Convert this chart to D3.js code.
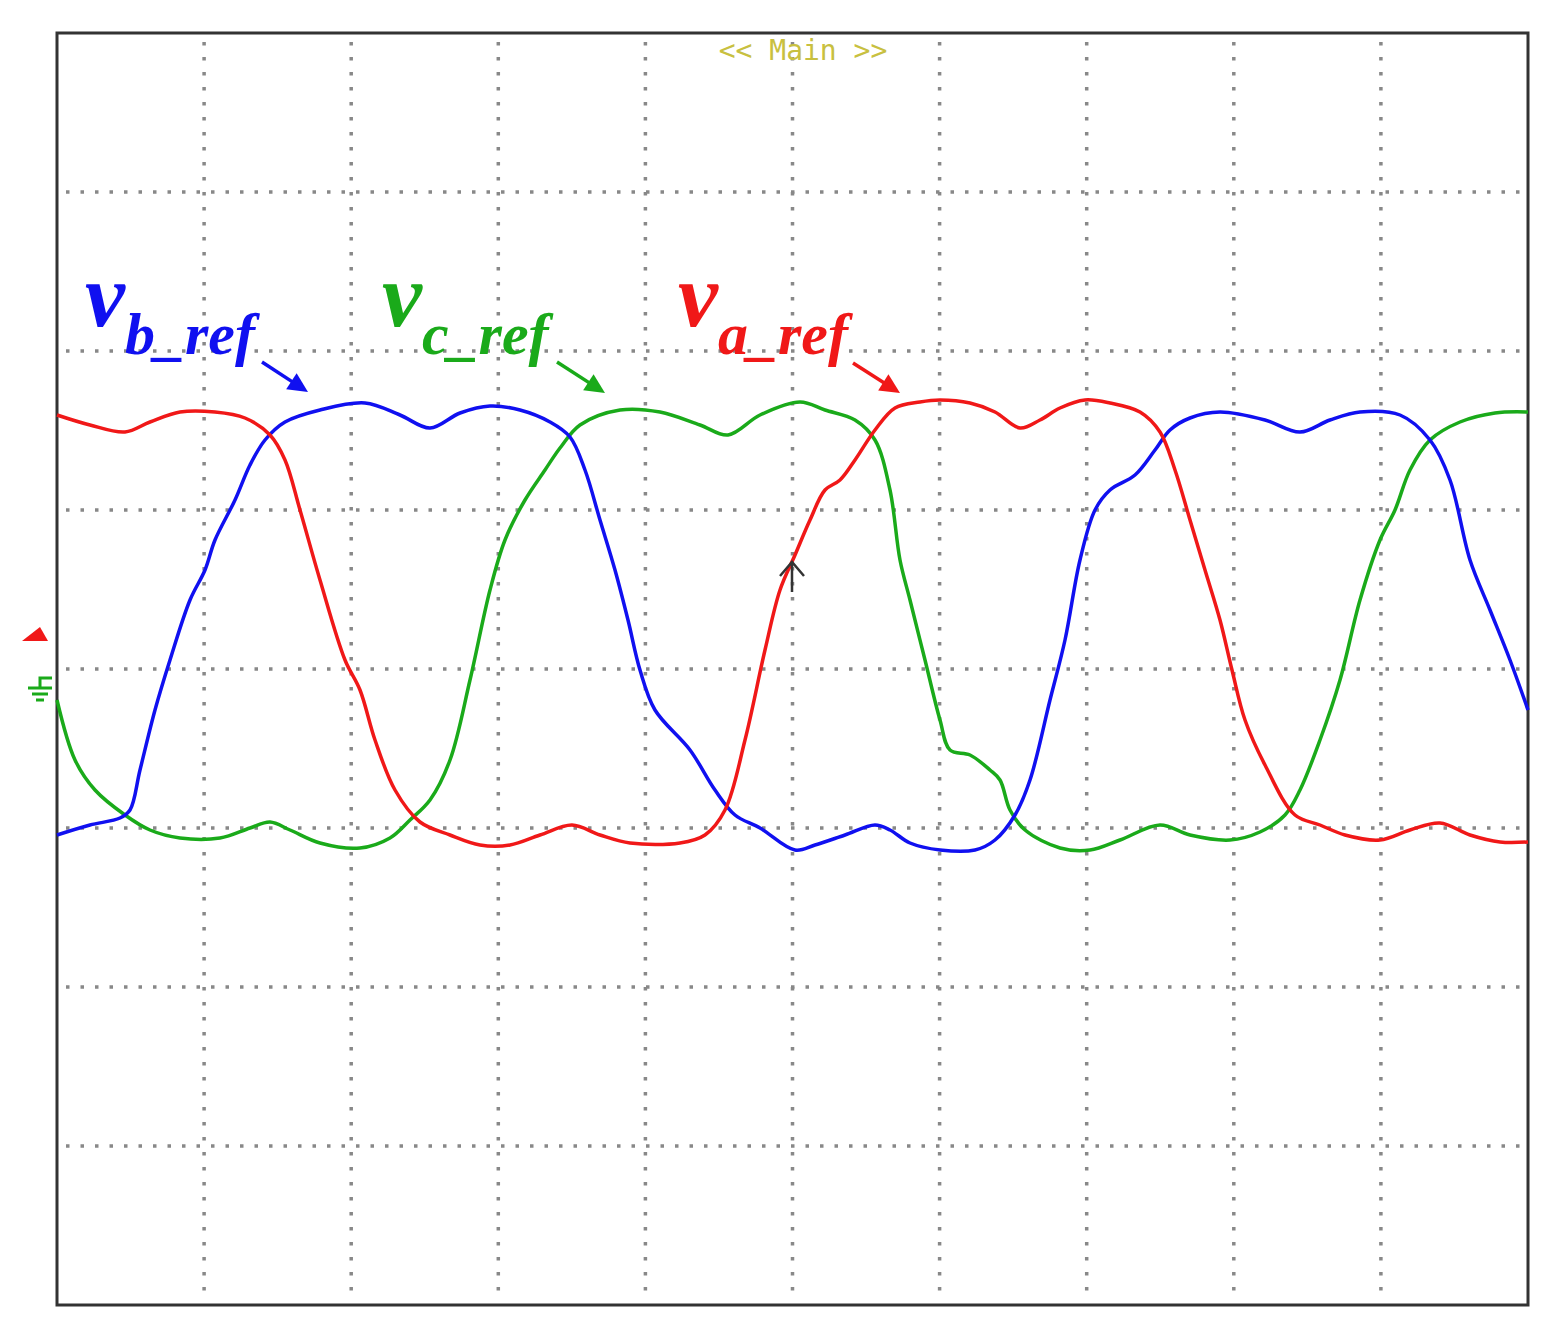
<!DOCTYPE html>
<html>
<head>
<meta charset="utf-8">
<script src="https://cdn.jsdelivr.net/npm/d3@7"></script>
<style>
  body { margin: 0; background: #fff; }
  .lbl { font-family: "Liberation Serif", serif; font-style: italic; font-weight: bold; }
</style>
</head>
<body>
<div id="viz"></div>
<script>
/*** data: screen divisions (x: 0..10, y: 0 = centre line, 4 divs each way) ***/
// traces in pixels, then converted below
const vaPx = [[57,415],[90,425],[125,432],[150,422],[180,412],[215,412],[245,418],[270,435],[285,460],[300,510],[320,580],[345,660],[360,690],[375,740],[395,790],[420,822],[450,835],[480,845],[510,845],[540,835],[572,825],[600,835],[630,843],[680,843],[705,835],[725,810],[745,740],[765,650],[780,590],[795,555],[810,520],[825,490],[840,480],[855,460],[875,430],[895,408],[920,402],[940,400],[970,403],[995,412],[1020,428],[1040,420],[1060,408],[1085,400],[1110,403],[1140,412],[1160,432],[1175,470],[1190,520],[1205,570],[1220,620],[1232,670],[1245,720],[1265,765],[1295,815],[1320,825],[1345,835],[1380,840],[1410,830],[1440,823],[1470,835],[1500,842],[1528,842]];
const vbPx = [[57,835],[90,825],[120,818],[130,810],[140,770],[155,710],[170,660],[190,600],[205,570],[215,540],[235,500],[250,465],[265,440],[285,422],[320,410],[365,403],[400,415],[430,428],[460,413],[490,406],[520,410],[550,422],[570,437],[585,470],[600,520],[615,570],[628,620],[640,670],[655,710],[690,750],[715,790],[735,815],[760,828],[795,850],[815,845],[845,835],[875,825],[890,830],[910,843],[940,850],[975,850],[995,840],[1015,815],[1030,780],[1050,700],[1065,640],[1080,560],[1095,510],[1110,490],[1135,475],[1155,450],[1170,430],[1190,418],[1220,412],[1265,420],[1300,432],[1330,420],[1360,412],[1400,415],[1430,440],[1450,480],[1470,560],[1490,610],[1510,660],[1528,710]];
const vcPx = [[57,700],[75,760],[95,790],[125,815],[150,830],[180,838],[220,838],[250,828],[270,822],[290,830],[320,843],[360,848],[390,838],[410,820],[430,800],[450,760],[470,680],[490,590],[505,540],[525,500],[545,470],[560,448],[580,425],[620,410],[660,412],[700,425],[728,435],[760,415],[800,402],[825,410],[855,420],[875,440],[890,490],[900,560],[910,600],[925,660],[940,720],[950,750],[970,755],[990,770],[1000,780],[1010,810],[1025,830],[1060,848],[1090,850],[1120,840],[1160,825],[1190,835],[1230,840],[1260,832],[1285,815],[1300,790],[1320,740],[1340,680],[1360,600],[1380,540],[1395,510],[1410,470],[1430,440],[1460,422],[1495,413],[1528,412]];
const toDiv = p => [(p[0] - 57) / 147.1, (669 - p[1]) / 159];
const va = vaPx.map(toDiv), vb = vbPx.map(toDiv), vc = vcPx.map(toDiv);

const xTicks = d3.range(1, 10);
const yTicks = [-3, -2, -1, 0, 1, 2, 3];

const W = 1562, H = 1344;
const x = d3.scaleLinear().domain([0, 10]).range([57, 1528]);
const y = d3.scaleLinear().domain([-4, 4]).range([1305, 33]);

const svg = d3.select('#viz').append('svg').attr('width', W).attr('height', H);

// grid
svg.append('g').selectAll('line').data(xTicks).join('line')
  .attr('x1', d => x(d)).attr('x2', d => x(d)).attr('y1', 42).attr('y2', 1300)
  .attr('stroke', '#888').attr('stroke-width', 3.5).attr('stroke-dasharray', '3.5,11.5');
svg.append('g').selectAll('line').data(yTicks).join('line')
  .attr('y1', d => y(d)).attr('y2', d => y(d)).attr('x1', 66).attr('x2', 1520)
  .attr('stroke', '#888').attr('stroke-width', 3.5).attr('stroke-dasharray', '3.5,11');

svg.append('rect').attr('x', 57).attr('y', 33).attr('width', 1471).attr('height', 1272)
  .attr('fill', 'none').attr('stroke', '#333').attr('stroke-width', 3);

svg.append('text').attr('x', 803).attr('y', 60).attr('text-anchor', 'middle')
  .attr('font-family', 'DejaVu Sans Mono').attr('font-size', 28).attr('fill', '#c8c040')
  .text('<< Main >>');

// traces
const line = d3.line().x(d => x(d[0])).y(d => y(d[1])).curve(d3.curveCatmullRom);
[[vc, '#1aaa1a'], [vb, '#1010f0'], [va, '#f01818']].forEach(([data, c]) => {
  svg.append('path').attr('d', line(data)).attr('fill', 'none')
    .attr('stroke', c).attr('stroke-width', 3.5).attr('stroke-linejoin', 'round');
});

// left markers
svg.append('path').attr('d', 'M22,641 L48,641 L40,627 Z').attr('fill', '#f01818');
svg.append('path').attr('d', 'M52,678 L40,678 L40,688 M28,688 L52,688 M32,694 L48,694 M36,700 L44,700')
  .attr('stroke', '#1aaa1a').attr('stroke-width', 3).attr('fill', 'none');

// trigger arrow
svg.append('path').attr('d', 'M792,592 L792,562 M780,576 L792,562 L804,576')
  .attr('stroke', '#333').attr('stroke-width', 2.5).attr('fill', 'none');

// labels
const labels = [
  {sub: 'b_ref', c: '#1010f0', lx: 85, ax: [262, 362, 308, 392]},
  {sub: 'c_ref', c: '#1aaa1a', lx: 382, ax: [557, 362, 605, 393]},
  {sub: 'a_ref', c: '#f01818', lx: 678, ax: [853, 363, 900, 393]}
];
labels.forEach(l => {
  const t = svg.append('text').attr('class', 'lbl').attr('x', l.lx).attr('y', 326).attr('fill', l.c);
  t.append('tspan').attr('font-size', 90).text('v');
  t.append('tspan').attr('font-size', 60).attr('dy', 28).text(l.sub);
  const [x1, y1, x2, y2] = l.ax;
  const a = Math.atan2(y2 - y1, x2 - x1);
  svg.append('line').attr('x1', x1).attr('y1', y1)
    .attr('x2', x2 - 14 * Math.cos(a)).attr('y2', y2 - 14 * Math.sin(a))
    .attr('stroke', l.c).attr('stroke-width', 3.5);
  const h = 22, w = 0.45;
  svg.append('path').attr('fill', l.c).attr('d',
    `M${x2},${y2} L${x2 - h * Math.cos(a - w)},${y2 - h * Math.sin(a - w)} L${x2 - h * Math.cos(a + w)},${y2 - h * Math.sin(a + w)} Z`);
});
</script>
</body>
</html>
